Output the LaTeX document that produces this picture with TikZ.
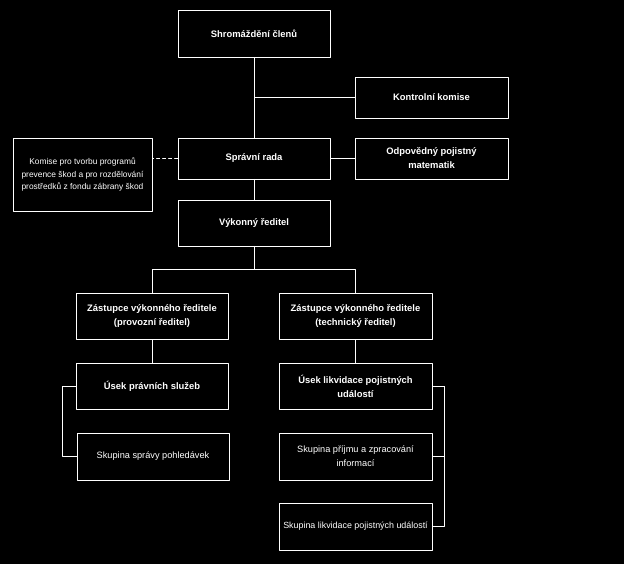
\documentclass[tikz,border=0pt]{standalone}
\usepackage{fontspec}
\setmainfont{Liberation Sans}
\usepackage{tikz}
\usetikzlibrary{arrows}

\begin{document}
\begin{tikzpicture}[line cap=round,line join=round,x=1pt,y=-1pt,
  box/.style={draw=white,line width=0.8pt,text=white,align=center,inner sep=1pt,
    minimum width=152pt,minimum height=46pt,font=\fontsize{9.4}{14}\selectfont\bfseries},
  thinbox/.style={box,font=\fontsize{9.2}{14}\selectfont},
  link/.style={draw=white,line width=0.8pt}]
\fill[black] (0,0) rectangle (624,564);
\useasboundingbox (0,0) rectangle (624,564);
% upper part
\node[box,minimum height=47pt] (shrom) at (254,33.5) {Shromáždění členů};
\node[box,minimum width=153pt,minimum height=41pt] (kontrol) at (431.5,97.5) {Kontrolní komise};
\node[box,minimum height=41pt] (sprava) at (254,158.5) {Správní rada};
\node[box,minimum width=153pt,minimum height=41pt] (odpov) at (431.5,158.5) {Odpovědný pojistný\\matematik};
\node[thinbox,font=\fontsize{8.4}{12.5}\selectfont,minimum width=139pt,minimum height=73pt] (komise) at (82.5,174.5)
  {Komise pro tvorbu programů\\prevence škod a pro rozdělování\\prostředků z fondu zábrany škod};
\node[box] (vykon) at (254,223) {Výkonný ředitel};
% deputies
\node[box] (zast1) at (152,316) {Zástupce výkonného ředitele\\(provozní ředitel)};
\node[box,minimum width=153pt] (zast2) at (355.5,316) {Zástupce výkonného ředitele\\(technický ředitel)};
\node[box] (pravni) at (152,386) {Úsek právních služeb};
\node[thinbox,minimum height=47pt] (pohled) at (153,456.5) {Skupina správy pohledávek};
\node[box,minimum width=153pt] (likv) at (355.5,386) {Úsek likvidace pojistných\\událostí};
\node[thinbox,minimum width=153pt,minimum height=47pt] (prijem) at (355.5,456.5) {Skupina příjmu a zpracování\\informací};
\node[thinbox,font=\fontsize{8.9}{14}\selectfont,minimum width=153pt,minimum height=47pt] (skuplikv) at (355.5,526.5) {Skupina likvidace pojistných událostí};
% connectors
\draw[link] (shrom) -- (sprava);
\draw[link] (sprava) -- (vykon);
\draw[link,line width=1.8pt,line cap=butt] (kontrol.west) -- (kontrol.west -| shrom.south);
\draw[link,dashed] (sprava.west) -- (sprava.west -| komise.east);
\draw[link] (sprava.east) -- (odpov.west);
\draw[link] (vykon.south) -- ++(0,23.5) -| (zast1.north);
\draw[link] (vykon.south) -- ++(0,23.5) -| (zast2.north);
\draw[link] (zast1) -- (pravni);
\draw[link] (zast2) -- (likv);
\draw[link] (pravni.west) -- ++(-13,0) |- (pohled.west);
\draw[link] (likv.east) -- ++(12,0) |- (prijem.east);
\draw[link] (likv.east) -- ++(12,0) |- (skuplikv.east);
\end{tikzpicture}
\end{document}
